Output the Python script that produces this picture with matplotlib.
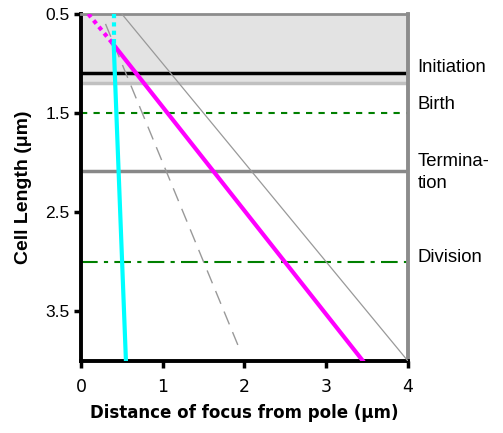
import matplotlib
matplotlib.use("Agg")
import matplotlib.pyplot as plt

# cell-cycle event lengths (um)
shade_top, shade_bottom = 0.5, 1.2
event_names = ["Initiation", "Birth", "Termina-\ntion", "Division"]
event_lengths = [1.1, 1.5, 2.08, 3.0]
label_y = [1.04, 1.41, 2.1, 2.96]
lightgray_len = 1.2

# focus positions: (distance, length)
magenta_dot_x = [0.09, 0.39]
magenta_dot_y = [0.5, 0.8]
magenta_x = [0.39, 3.45]
magenta_y = [0.8, 4.0]
cyan_dot_x = [0.40, 0.40]
cyan_dot_y = [0.5, 0.8]
cyan_x = [0.40, 0.55]
cyan_y = [0.8, 4.0]
half_x = [0.3, 1.95]
half_y = [0.6, 3.9]
diag_x = [0.5, 4.0]
diag_y = [0.5, 4.0]

xticks = [0, 1, 2, 3, 4]
yticks = [0.5, 1.5, 2.5, 3.5]

fig = plt.figure(figsize=(5.03, 4.33), dpi=100)
ax = fig.add_axes([0.161, 0.1663, 0.65, 0.8014])

ax.axhspan(shade_top, shade_bottom, color="#e3e3e3", zorder=0)
ax.axhline(lightgray_len, color="#c0c0c0", lw=2.5, zorder=1)
ax.axhline(event_lengths[0], color="black", lw=2.5, zorder=2)
ax.axhline(event_lengths[1], color="#008000", lw=1.5, ls=(0, (3, 3)), zorder=2)
ax.axhline(event_lengths[2], color="#888888", lw=2.5, zorder=2)
ax.axhline(event_lengths[3], color="#008000", lw=1.5, ls=(0, (8, 3, 2, 3)), zorder=2)

ax.plot(diag_x, diag_y, color="#999999", lw=0.9, zorder=3)
ax.plot(half_x, half_y, color="#999999", lw=1.0, ls=(0, (10, 6)), zorder=3)
ax.plot(magenta_dot_x, magenta_dot_y, color="#ff00ff", lw=3, ls=(0, (1, 1)), zorder=4)
ax.plot(magenta_x, magenta_y, color="#ff00ff", lw=3, zorder=4)
ax.plot(cyan_dot_x, cyan_dot_y, color="#00ffff", lw=3, ls=(0, (1, 1)), zorder=5)
ax.plot(cyan_x, cyan_y, color="#00ffff", lw=3, zorder=5)

ax.set_xlim(0, 4)
ax.set_ylim(4.0, 0.5)
ax.set_xticks(xticks)
ax.set_yticks(yticks)
ax.set_yticklabels([str(v) for v in yticks], fontsize=12.5, family="Liberation Sans")
ax.set_xticklabels([str(v) for v in xticks], fontsize=12.5, family="DejaVu Sans")
ax.tick_params(axis="both", direction="out", length=5, width=2.5, color="black")
ax.tick_params(axis="y", pad=3)
ax.tick_params(axis="x", pad=7)

for s in ["left", "bottom"]:
    ax.spines[s].set_linewidth(2.8)
    ax.spines[s].set_color("black")
ax.spines["top"].set_linewidth(2)
ax.spines["top"].set_color("#8c8c8c")
ax.spines["right"].set_linewidth(2.8)
ax.spines["right"].set_color("#8c8c8c")

for name, yv in zip(event_names, label_y):
    ax.text(1.03, yv, name, transform=ax.get_yaxis_transform(), ha="left", va="center",
            fontsize=13.3, family="Liberation Sans", linespacing=1.4)

ax.set_xlabel("Distance of focus from pole (μm)", fontsize=12, fontweight="bold",
              family="DejaVu Sans", labelpad=6)
ax.set_ylabel("Cell Length (μm)", fontsize=14, fontweight="bold",
              family="Liberation Sans", labelpad=10)

fig.savefig("out.png", dpi=100)
